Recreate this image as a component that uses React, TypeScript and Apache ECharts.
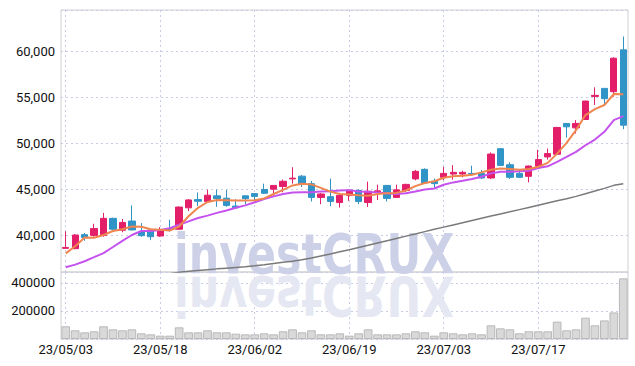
import React, { useEffect, useRef } from "react";
import * as echarts from "echarts";

const dates = [
  "23/05/03", "23/05/04", "23/05/08", "23/05/09", "23/05/10", "23/05/11", "23/05/12", "23/05/15", "23/05/16", "23/05/17",
  "23/05/18", "23/05/19", "23/05/22", "23/05/23", "23/05/24", "23/05/25", "23/05/26", "23/05/30", "23/05/31", "23/06/01",
  "23/06/02", "23/06/05", "23/06/07", "23/06/08", "23/06/09", "23/06/12", "23/06/13", "23/06/14", "23/06/15", "23/06/16",
  "23/06/19", "23/06/20", "23/06/21", "23/06/22", "23/06/23", "23/06/26", "23/06/27", "23/06/28", "23/06/29", "23/06/30",
  "23/07/03", "23/07/04", "23/07/05", "23/07/06", "23/07/07", "23/07/10", "23/07/11", "23/07/12", "23/07/13", "23/07/14",
  "23/07/17", "23/07/18", "23/07/19", "23/07/20", "23/07/21", "23/07/24", "23/07/25", "23/07/26", "23/07/27", "23/07/28",
];

// [open, close, low, high]
const ohlc = [
  [38550, 38650, 38500, 40400], [38520, 40000, 38450, 40100], [40040, 39740, 39370, 40220], [39960, 40700, 39815, 41220],
  [39960, 41810, 39815, 42400], [41810, 40630, 40550, 41890], [40520, 41370, 40300, 41740], [41520, 40555, 40500, 43220],
  [40330, 39930, 39815, 41300], [40520, 39815, 39445, 40630], [39890, 40555, 39815, 40850], [40700, 40600, 40370, 41670],
  [40630, 43040, 40550, 43100], [42960, 43815, 42600, 43900], [43850, 43670, 43150, 44630], [43630, 44330, 43590, 44930],
  [44260, 43960, 43070, 44930], [44000, 43220, 43070, 44890], [43150, 42960, 42850, 43890], [44260, 43960, 43330, 44300],
  [44500, 44200, 43650, 44500], [44950, 44540, 44460, 45580], [44985, 45390, 44280, 45400], [45280, 45840, 44650, 46030],
  [46100, 46180, 45580, 47370], [46400, 45580, 45210, 46510], [45580, 44090, 43650, 45880], [44090, 44460, 43350, 44580],
  [44170, 43650, 43120, 46140], [43530, 44310, 42980, 44580], [44315, 44870, 43720, 44880], [44840, 43650, 43350, 44990],
  [43530, 44760, 43050, 45800], [44610, 44800, 43800, 45470], [45390, 43980, 43650, 45400], [44090, 44910, 44050, 45470],
  [44840, 45500, 44650, 45580], [46100, 46920, 45950, 47070], [47140, 45650, 45600, 47250], [45840, 45580, 45100, 46140],
  [46270, 46700, 45980, 47400], [46630, 46810, 46010, 47600], [46630, 46810, 46270, 46990], [46700, 46630, 46450, 47530],
  [46700, 46200, 46090, 47060], [46200, 48800, 46090, 48980], [49380, 47570, 47500, 49450], [47640, 46270, 46090, 47900],
  [46700, 46270, 46200, 47170], [46380, 47500, 45720, 47550], [47470, 48200, 47350, 49250], [48490, 48850, 48200, 49400],
  [48780, 51690, 48700, 51760], [52130, 51760, 50600, 52150], [51650, 52130, 51040, 52490], [52560, 54560, 52500, 54600],
  [55070, 55180, 54130, 56050], [55940, 54820, 54020, 55950], [55580, 59220, 55040, 59330], [60130, 51940, 51510, 61580],
];

const ma5 = [
  38000, 38780, 39740, 39700, 40000, 40440, 40630, 40930, 40890, 40630,
  40560, 40480, 40930, 42040, 42960, 43590, 43815, 43780, 43740, 43740,
  43790, 43980, 44460, 44910, 45390, 45580, 45500, 45130, 44720, 44460,
  44400, 44320, 44280, 44460, 44540, 44580, 44840, 45320, 45650, 45840,
  46220, 46380, 46450, 46560, 46810, 47100, 47240, 47170, 47100, 47170,
  47420, 47840, 48850, 50020, 51400, 53040, 53690, 54130, 55330, 55290,
];

const ma20 = [
  36500, 36780, 37150, 37590, 38040, 38700, 39370, 40000, 40440, 40440,
  40550, 40740, 41110, 41480, 41850, 42110, 42410, 42670, 42960, 43220,
  43560, 43910, 44200, 44460, 44610, 44650, 44650, 44720, 44760, 44840,
  44880, 44720, 44690, 44610, 44540, 44460, 44540, 44720, 44950, 45060,
  45460, 45720, 45900, 46090, 46340, 46700, 46880, 46880, 46920, 46990,
  47290, 47470, 47950, 48490, 49040, 49760, 50380, 51220, 52490, 52930,
];

const ma60 = [
  null, null, null, null, null, null, null, null, null, null,
  null, 35800, 35950, 36050, 36140, 36230, 36320, 36400, 36480, 36560,
  36650, 36770, 36900, 37030, 37160, 37300, 37500, 37720, 37940, 38170,
  38400, 38640, 38880, 39130, 39380, 39630, 39880, 40120, 40370, 40620,
  40860, 41100, 41340, 41580, 41820, 42060, 42290, 42520, 42760, 43000,
  43240, 43480, 43720, 43950, 44200, 44490, 44780, 45070, 45400, 45580,
];

const volumes = [
  90500, 62000, 47600, 54800, 90500, 69000, 62000, 69000, 40500, 33300,
  23800, 23800, 83300, 47600, 47600, 62000, 47600, 47600, 38000, 33300,
  33300, 40500, 33300, 54800, 69000, 47600, 62000, 33300, 33300, 40500,
  23800, 40500, 69000, 33300, 33300, 33300, 40500, 54800, 47600, 23800,
  47600, 40500, 33300, 40500, 33300, 97600, 76200, 69000, 40500, 54800,
  54800, 54800, 124000, 62000, 69000, 152000, 97600, 133000, 190000, 433000,
];

const LABEL_FONT = "Roboto, 'DejaVu Sans', sans-serif";
const MARK_FONT = "'Liberation Sans Narrow', 'DejaVu Sans Condensed', sans-serif";
const GRID_LINE = { color: "#c9cce6", type: [2, 3] as number[], width: 1 };

export default function App() {
  const ref = useRef<HTMLDivElement>(null);

  useEffect(() => {
    if (!ref.current) return;
    const chart = echarts.init(ref.current, undefined, { renderer: "svg" });
    const markStyle = {
      text: "investCRUX",
      fontFamily: MARK_FONT,
      fontWeight: "bold",
      fontSize: 56,
      align: "left",
      verticalAlign: "middle",
    };
    const option: any = {
      animation: false,
      backgroundColor: "#ffffff",
      textStyle: { fontFamily: LABEL_FONT },
      grid: [
        { left: 61, right: 7, top: 10, height: 262, show: true, borderColor: "#d0d0d0", borderWidth: 1 },
        { left: 61, right: 7, top: 272, height: 67, show: true, borderColor: "#d0d0d0", borderWidth: 1 },
      ],
      graphic: [
        {
          type: "text",
          x: 174,
          y: 254,
          scaleX: 0.85,
          z: 1,
          silent: true,
          style: { ...markStyle, fill: "#cdd1e8" },
        },
        {
          type: "text",
          x: 174,
          y: 296,
          scaleX: 0.85,
          scaleY: -1,
          z: 1,
          silent: true,
          style: { ...markStyle, fill: "#e5e7f2" },
        },
      ],
      xAxis: [
        {
          type: "category",
          gridIndex: 0,
          data: dates,
          boundaryGap: true,
          axisLine: { show: false },
          axisTick: { show: false },
          axisLabel: { show: false, interval: 9 },
          splitLine: { show: true, interval: 9, alignWithLabel: true, lineStyle: GRID_LINE },
        },
        {
          type: "category",
          gridIndex: 1,
          data: dates,
          boundaryGap: true,
          axisLine: { show: false },
          axisTick: { show: false },
          axisLabel: { interval: 9, color: "#111", fontSize: 13, fontFamily: LABEL_FONT, margin: 4 },
          splitLine: { show: true, interval: 9, alignWithLabel: true, lineStyle: GRID_LINE },
        },
      ],
      yAxis: [
        {
          type: "value",
          gridIndex: 0,
          min: 35980,
          max: 64460,
          splitNumber: 5,
          axisLine: { show: false },
          axisTick: { show: false },
          axisLabel: {
            showMinLabel: false,
            showMaxLabel: false,
            color: "#111",
            fontSize: 13,
            fontFamily: LABEL_FONT,
            margin: 6,
            formatter: (v: number) => v.toLocaleString("en-US"),
          },
          splitLine: { show: true, lineStyle: GRID_LINE },
        },
        {
          type: "value",
          gridIndex: 1,
          min: 0,
          max: 478500,
          interval: 200000,
          axisLine: { show: false },
          axisTick: { show: false },
          axisLabel: {
            showMinLabel: false,
            showMaxLabel: false,
            color: "#111",
            fontSize: 13,
            fontFamily: LABEL_FONT,
            margin: 6,
            formatter: (v: number) => String(v),
          },
          splitLine: { show: true, lineStyle: GRID_LINE },
        },
      ],
      series: [
        {
          type: "bar",
          xAxisIndex: 1,
          yAxisIndex: 1,
          data: volumes,
          barWidth: "92%",
          itemStyle: { color: "#d9d9d9", borderColor: "#b8b8b8", borderWidth: 1 },
          z: 2,
        },
        {
          type: "candlestick",
          xAxisIndex: 0,
          yAxisIndex: 0,
          data: ohlc,
          barWidth: "72%",
          itemStyle: {
            color: "#e31f69",
            color0: "#3194c7",
            borderColor: "#e31f69",
            borderColor0: "#3194c7",
            borderWidth: 1,
          },
          z: 2,
        },
        {
          type: "line",
          xAxisIndex: 0,
          yAxisIndex: 0,
          data: ma60,
          symbol: "none",
          lineStyle: { color: "#7a7a7a", width: 1.5 },
          z: 3,
        },
        {
          type: "line",
          xAxisIndex: 0,
          yAxisIndex: 0,
          data: ma20,
          symbol: "none",
          lineStyle: { color: "#c652ee", width: 2 },
          z: 3,
        },
        {
          type: "line",
          xAxisIndex: 0,
          yAxisIndex: 0,
          data: ma5,
          symbol: "none",
          lineStyle: { color: "#ef8650", width: 2 },
          z: 4,
        },
      ],
    };
    chart.setOption(option);
    return () => chart.dispose();
  }, []);

  return (
    <div
      ref={ref}
      style={{ position: "fixed", left: 0, top: 0, width: 635, height: 366, background: "#fff" }}
    />
  );
}
